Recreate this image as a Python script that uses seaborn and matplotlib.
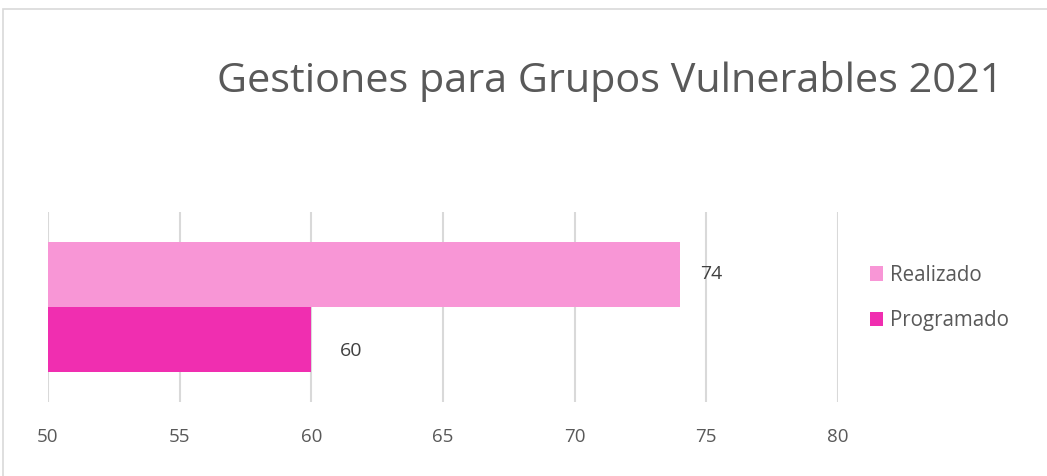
import matplotlib
matplotlib.use("Agg")
import matplotlib.pyplot as plt
from matplotlib.patches import Rectangle, Patch
import seaborn as sns
import pandas as pd

# Datos
grupo = ["Grupos Vulnerables"]
series = ["Realizado", "Programado"]
valores = [74, 60]
colores = ["#F896D6", "#F02EB0"]
ticks_x = [50, 55, 60, 65, 70, 75, 80]
titulo = "Gestiones para Grupos Vulnerables 2021"

df = pd.DataFrame({"grupo": grupo * len(series), "serie": series, "valor": valores})

sns.set_theme(style="white")
plt.rcParams["font.family"] = ["Open Sans", "DejaVu Sans"]

fig = plt.figure(figsize=(10.47, 4.76), dpi=100)
ax = fig.add_axes([48 / 1047, 1 - 402 / 476, 790 / 1047, 190 / 476])

sns.barplot(data=df, x="valor", y="grupo", hue="serie", hue_order=series,
            palette=colores, orient="h", width=0.684, saturation=1,
            linewidth=0, ax=ax, legend=False)

ax.set_xlim(50, 80)
ax.set_ylim(0.5, -0.5)
ax.set_xticks(ticks_x)
ax.set_xticklabels([str(t) for t in ticks_x], fontsize=13.5, color="#595959")
ax.set_yticks([])
ax.set_xlabel("")
ax.set_ylabel("")
ax.tick_params(axis="x", length=0, pad=19)
ax.grid(axis="x", color="#D9D9D9", linewidth=1.5)
ax.set_axisbelow(True)
for s in ax.spines.values():
    s.set_visible(False)

# Etiquetas de valor (desplazamiento en píxeles desde el extremo de cada barra)
desplazamientos = [(20, 1), (29, -12)]
for bar, v, off in zip(ax.patches, valores, desplazamientos):
    y = bar.get_y() + bar.get_height() / 2
    ax.annotate(str(v), xy=(v, y), xytext=off, textcoords="offset pixels",
                ha="left", va="center", fontsize=14, color="#404040")

# Leyenda
handles = [Patch(facecolor=c, edgecolor="none") for c in colores]
fig.legend(handles, series, loc="center left", bbox_to_anchor=(851 / 1047, 1 - 298 / 476),
           frameon=False, fontsize=14.8, labelcolor="#595959", handlelength=0.68,
           handleheight=0.68, handletextpad=0.3, labelspacing=1.2)

fig.text(610 / 1047, 1 - 82 / 476, titulo, ha="center", va="center",
         fontsize=29.8, color="#595959")

# Marco del gráfico
fig.patches.append(Rectangle((3 / 1047, -0.1), 1.2, 1 - 9 / 476 + 0.1,
                             transform=fig.transFigure, fill=False,
                             edgecolor="#D9D9D9", linewidth=1.2))

fig.savefig("out.png", dpi=100, facecolor="white")
